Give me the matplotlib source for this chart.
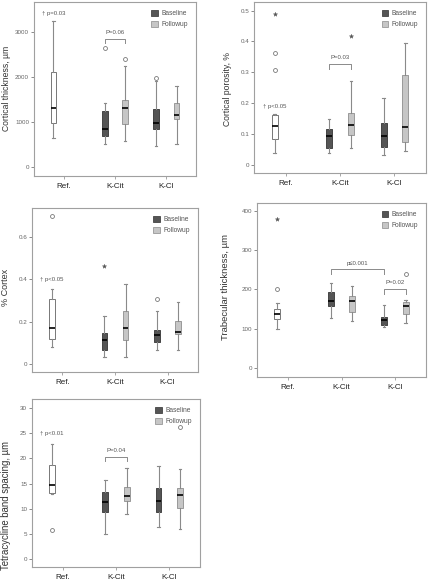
import matplotlib
matplotlib.use("Agg")
import matplotlib.pyplot as plt
from matplotlib.patches import Patch

plt.rcParams['font.family'] = ['Liberation Sans', 'DejaVu Sans']

groups = ["Ref.", "K-Cit", "K-Cl"]
series = ["Baseline", "Followup"]

# Box stats: [whislo, q1, median, q3, whishi]
ct_boxes = [[647, 990, 1310, 2113, 3260],
            [513, 699, 841, 1257, 1421],
            [580, 952, 1324, 1496, 2247],
            [469, 848, 990, 1287, 1920],
            [506, 1064, 1161, 1436, 1815]]
ct_circles = [[], [2664], [2418], [1979], []]
ct_stars = [[], [], [], [], []]

cp_boxes = [[0.038, 0.083, 0.124, 0.162, 0.165],
            [0.038, 0.054, 0.094, 0.116, 0.149],
            [0.054, 0.095, 0.129, 0.167, 0.272],
            [0.032, 0.059, 0.094, 0.135, 0.218],
            [0.043, 0.075, 0.123, 0.291, 0.395]]
cp_circles = [[0.361, 0.306], [], [], [], []]
cp_stars = [[0.489], [], [0.419], [], []]

pc_boxes = [[0.079, 0.119, 0.171, 0.306, 0.353],
            [0.032, 0.063, 0.114, 0.147, 0.225],
            [0.032, 0.114, 0.171, 0.250, 0.380],
            [0.063, 0.101, 0.135, 0.162, 0.250],
            [0.063, 0.143, 0.150, 0.204, 0.293]]
pc_circles = [[0.700], [], [], [0.309], []]
pc_stars = [[], [0.466], [], [], []]

tt_boxes = [[98, 124, 137, 151, 166],
            [126, 157, 170, 194, 217],
            [119, 143, 170, 183, 209],
            [105, 109, 122, 130, 160],
            [115, 138, 157, 169, 174]]
tt_circles = [[200], [], [], [], [238]]
tt_stars = [[379], [], [], [], []]

tb_boxes = [[13.0, 13.2, 14.8, 18.6, 22.8],
            [5.05, 9.4, 11.4, 13.4, 15.6],
            [9.0, 11.6, 12.6, 14.4, 18.0],
            [6.4, 9.3, 11.5, 14.2, 18.4],
            [6.0, 10.2, 12.7, 14.2, 17.8]]
tb_circles = [[5.7], [], [], [], [26.3]]
tb_stars = [[], [], [], [], []]

W, H = 429, 582
fig = plt.figure(figsize=(W / 100, H / 100), dpi=100)

def px_axes(x0, y0, x1, y1):
    return fig.add_axes([x0 / W, 1 - y1 / H, (x1 - x0) / W, (y1 - y0) / H])

OFF = 0.2
positions = [-OFF, 1 - OFF, 1 + OFF, 2 - OFF, 2 + OFF]
faces = ["white", "#555555", "#c6c6c6", "#555555", "#c6c6c6"]
edges = ["#777777", "#444444", "#999999", "#444444", "#999999"]
GRAY = "#8a8a8a"

def panel(ax, boxes, circles, stars, ylim, yticks, ylabel, lab_x, lab_y, lab_fs):
    for i, b in enumerate(boxes):
        st = dict(whislo=b[0], q1=b[1], med=b[2], q3=b[3], whishi=b[4], fliers=[])
        ax.bxp([st], positions=[positions[i]], widths=0.11, capwidths=0.045,
               patch_artist=True, showfliers=False,
               boxprops=dict(facecolor=faces[i], edgecolor=edges[i], linewidth=0.7),
               medianprops=dict(color="black", linewidth=1.2),
               whiskerprops=dict(color=GRAY, linewidth=0.8),
               capprops=dict(color=GRAY, linewidth=0.8))
        if circles[i]:
            ax.plot([positions[i]] * len(circles[i]), circles[i], 'o', ms=2.8,
                    mfc="white", mec="#777777", mew=0.6)
        if stars[i]:
            ax.plot([positions[i]] * len(stars[i]), stars[i], '*', ms=3.2,
                    color="#555555", mew=0.3)
    ax.set_xlim(-0.58, 2.58)
    ax.set_ylim(*ylim)
    ax.set_yticks(yticks)
    ax.set_xticks([0, 1, 2])
    ax.set_xticklabels(groups, fontsize=5.8, color="#222222")
    ax.tick_params(axis='y', labelsize=4.5, colors="#777777", length=2, width=0.6, pad=1.5,
                   labelcolor="#666666")
    ax.tick_params(axis='x', length=2, width=0.6, colors="#999999", pad=3, labelcolor="#222222")
    for s in ax.spines.values():
        s.set_color("#a0a0a0")
        s.set_linewidth(0.8)
    ax.set_ylabel(ylabel, fontsize=lab_fs, color="#333333", va="center")
    bb = ax.get_position()
    ax.yaxis.set_label_coords((lab_x / W - bb.x0) / bb.width,
                              ((1 - lab_y / H) - bb.y0) / bb.height)
    handles = [Patch(facecolor="#555555", edgecolor="#444444", lw=0.6, label=series[0]),
               Patch(facecolor="#c6c6c6", edgecolor="#999999", lw=0.6, label=series[1])]
    ax.legend(handles=handles, loc="upper right", frameon=False, fontsize=4.8,
              handlelength=1.0, handleheight=1.0, handletextpad=0.5, labelspacing=0.55,
              borderaxespad=0.8, labelcolor="#555555")

def bracket(ax, x1, x2, ytop, yend, label, ytext):
    ax.plot([x1, x1, x2, x2], [yend, ytop, ytop, yend], color=GRAY, lw=0.7)
    ax.text((x1 + x2) / 2, ytext, label, ha="center", va="center", fontsize=4.3, color="#555555")

def dagger(ax, y, label):
    ax.text(-OFF, y, label, ha="center", va="center", fontsize=4.3, color="#555555")

# Panel 1
ax1 = px_axes(34, 2, 196, 176)
panel(ax1, ct_boxes, ct_circles, ct_stars, (-200, 3680), [0, 1000, 2000, 3000],
      "Cortical thickness, µm", 6, 88, 6.2)
dagger(ax1, 3420, "† p=0.03")
bracket(ax1, 1 - OFF, 1 + OFF, 2850, 2760, "P=0.06", 2990)

# Panel 2
ax2 = px_axes(254, 2, 426, 173)
panel(ax2, cp_boxes, cp_circles, cp_stars, (-0.027, 0.528), [0, 0.1, 0.2, 0.3, 0.4, 0.5],
      "Cortical porosity, %", 227, 89, 6.2)
ax2.set_yticklabels(["0", "0.1", "0.2", "0.3", "0.4", "0.5"])
dagger(ax2, 0.19, "† p<0.05")
bracket(ax2, 1 - OFF, 1 + OFF, 0.327, 0.309, "P=0.03", 0.348)

# Panel 3
ax3 = px_axes(32, 208, 198, 372)
panel(ax3, pc_boxes, pc_circles, pc_stars, (-0.04, 0.74), [0, 0.2, 0.4, 0.6], "% Cortex",
      6, 287, 6.5)
ax3.set_yticklabels(["0", "0.2", "0.4", "0.6"])
dagger(ax3, 0.40, "† p<0.05")

# Panel 4
ax4 = px_axes(257, 203, 426, 377)
panel(ax4, tt_boxes, tt_circles, tt_stars, (-23, 420), [0, 100, 200, 300, 400],
      "Trabecular thickness, µm", 226, 287, 6.8)
bracket(ax4, 1 - OFF, 2 - OFF, 252, 239, "p≤0.001", 265)
bracket(ax4, 2 - OFF, 2 + OFF, 200, 188, "P=0.02", 217)

# Panel 5
ax5 = px_axes(32, 399, 200, 567)
panel(ax5, tb_boxes, tb_circles, tb_stars, (-1.6, 31.8), [0, 5, 10, 15, 20, 25, 30],
      "Tetracycline band spacing, µm", 6, 505, 6.9)
dagger(ax5, 25, "† p<0.01")
bracket(ax5, 1 - OFF, 1 + OFF, 20.3, 19.5, "P=0.04", 21.5)

fig.savefig("out.png", dpi=100)
